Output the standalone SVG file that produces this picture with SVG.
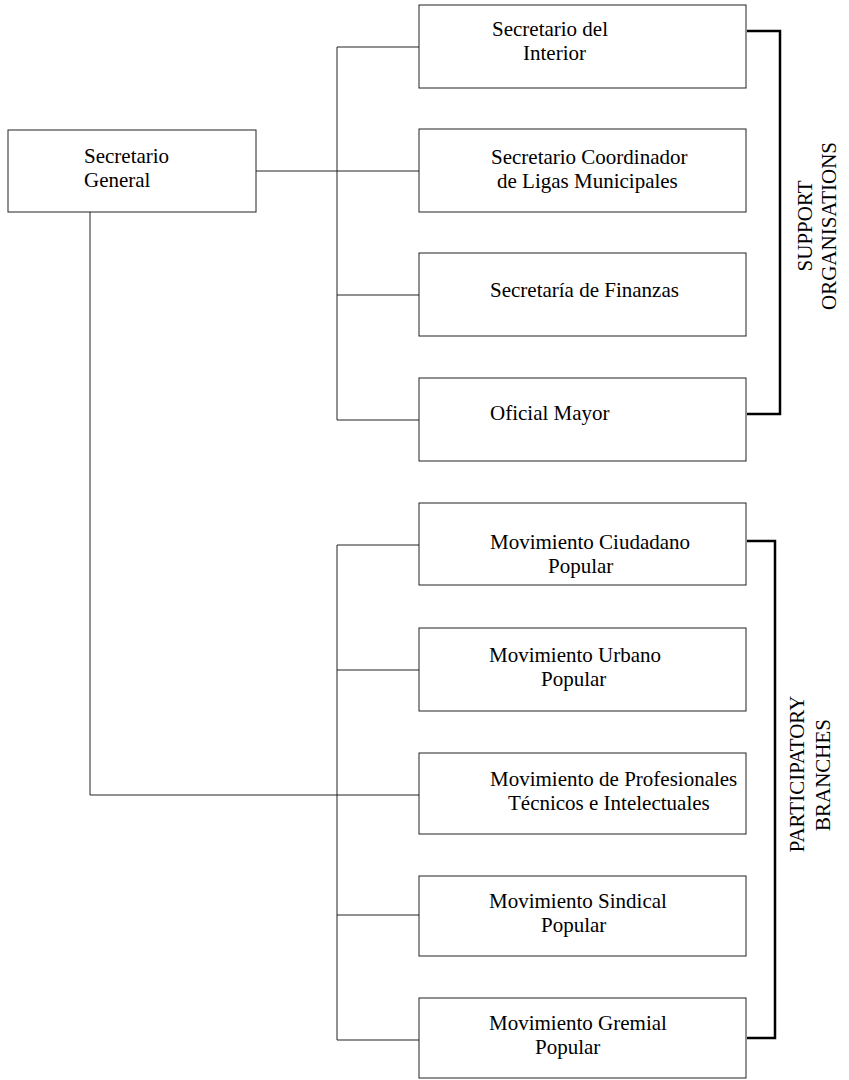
<svg xmlns="http://www.w3.org/2000/svg" width="849" height="1080" viewBox="0 0 849 1080">
<style>
.box{fill:#fff;stroke:#222;stroke-width:1}
.ln{fill:none;stroke:#222;stroke-width:1}
.br{fill:none;stroke:#000;stroke-width:2.5}
text{font-family:"Liberation Serif","Times New Roman",serif;font-size:21px;fill:#000}
.rot{text-anchor:middle}
</style>
<rect width="849" height="1080" fill="#fff"/>
<g id="connectors">
<path class="ln" d="M256,171 H419"/>
<path class="ln" d="M337,47 V420"/>
<path class="ln" d="M337,47 H419 M337,295 H419 M337,420 H419"/>
<path class="ln" d="M90,212 V795 H419"/>
<path class="ln" d="M337,545 V1040"/>
<path class="ln" d="M337,545 H419 M337,670 H419 M337,915 H419 M337,1040 H419"/>
<path class="br" d="M747,31 H780 V414 H747"/>
<path class="br" d="M747,541 H775 V1038 H747"/>
</g>
<g id="n-sg"><rect class="box" x="8" y="130" width="248" height="82"/><text x="84" y="163">Secretario</text><text x="84" y="187">General</text></g>
<g id="n-interior"><rect class="box" x="419" y="5" width="327" height="83"/><text x="492" y="36">Secretario del</text><text x="523" y="60">Interior</text></g>
<g id="n-ligas"><rect class="box" x="419" y="129" width="327" height="83"/><text x="491" y="164">Secretario Coordinador</text><text x="497" y="188">de Ligas Municipales</text></g>
<g id="n-finanzas"><rect class="box" x="419" y="253" width="327" height="83"/><text x="490" y="297">Secretaría de Finanzas</text></g>
<g id="n-oficial"><rect class="box" x="419" y="378" width="327" height="83"/><text x="490" y="420">Oficial Mayor</text></g>
<g id="n-ciudadano"><rect class="box" x="419" y="503" width="327" height="82"/><text x="490" y="549">Movimiento Ciudadano</text><text x="548" y="573">Popular</text></g>
<g id="n-urbano"><rect class="box" x="419" y="628" width="327" height="83"/><text x="489" y="662">Movimiento Urbano</text><text x="541" y="686">Popular</text></g>
<g id="n-profesionales"><rect class="box" x="419" y="753" width="327" height="81"/><text x="490" y="786">Movimiento de Profesionales</text><text x="508" y="810">Técnicos e Intelectuales</text></g>
<g id="n-sindical"><rect class="box" x="419" y="876" width="327" height="80"/><text x="489" y="908">Movimiento Sindical</text><text x="541" y="932">Popular</text></g>
<g id="n-gremial"><rect class="box" x="419" y="998" width="327" height="80"/><text x="489" y="1030">Movimiento Gremial</text><text x="535" y="1054">Popular</text></g>
<g id="label-support"><text class="rot" transform="translate(812,226) rotate(-90)">SUPPORT</text><text class="rot" transform="translate(836,226) rotate(-90)">ORGANISATIONS</text></g>
<g id="label-participatory"><text class="rot" transform="translate(804,774) rotate(-90)">PARTICIPATORY</text><text class="rot" transform="translate(830,775) rotate(-90)">BRANCHES</text></g>
</svg>
